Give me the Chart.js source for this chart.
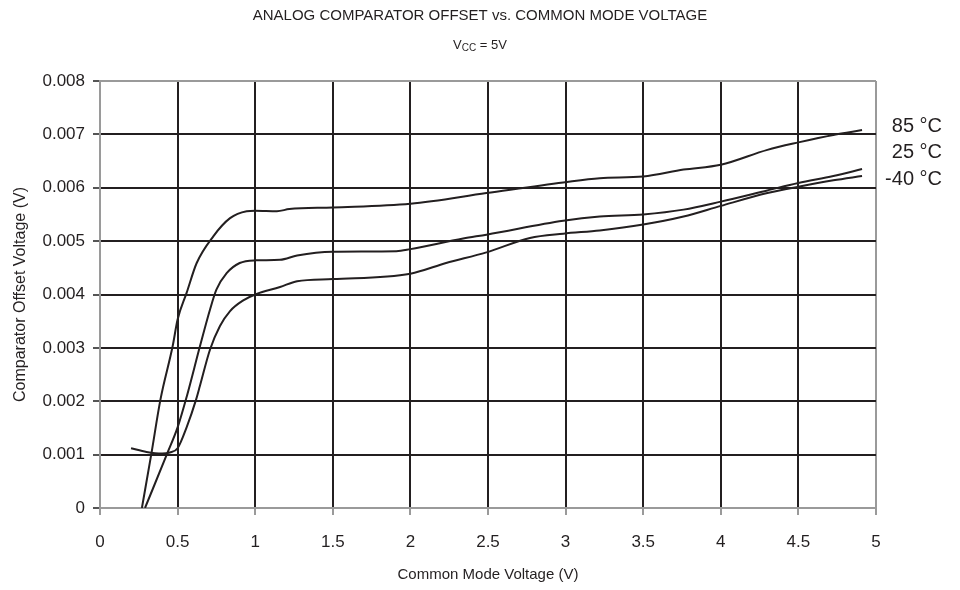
<!DOCTYPE html>
<html>
<head>
<meta charset="utf-8">
<script src="https://cdn.jsdelivr.net/npm/chart.js@4"></script>
<style>
  html, body { margin: 0; padding: 0; background: #fff; }
  #wrap { width: 960px; height: 590px; }
</style>
</head>
<body>
<div id="wrap"><canvas id="graph"></canvas></div>
<script>
// tick labels
const xTickLabels = ['0', '0.5', '1', '1.5', '2', '2.5', '3', '3.5', '4', '4.5', '5'];
const yTickLabels = ['0', '0.001', '0.002', '0.003', '0.004', '0.005', '0.006', '0.007', '0.008'];

// series
const seriesNames = ['85 °C', '25 °C', '-40 °C'];

const x85 = [0.27, 0.33, 0.39, 0.468, 0.5, 0.558, 0.623, 0.73, 0.838, 0.945, 1.0, 1.14, 1.22, 1.5, 2.0, 2.49, 2.985, 3.22, 3.5, 3.76, 4.0, 4.3, 4.5, 4.725, 4.91];
const y85 = [0, 0.001, 0.00204, 0.00303, 0.00353, 0.00403, 0.00459, 0.00509, 0.00543, 0.00556, 0.00557, 0.00556, 0.0056, 0.00563, 0.0057, 0.0059, 0.0061, 0.00618, 0.00621, 0.00634, 0.00643, 0.00671, 0.00685, 0.00699, 0.00708];

const x25 = [0.29, 0.43, 0.5, 0.56, 0.644, 0.709, 0.75, 0.816, 0.9, 1.0, 1.16, 1.27, 1.5, 1.91, 2.0, 2.34, 2.49, 2.985, 3.22, 3.5, 3.76, 4.0, 4.3, 4.5, 4.725, 4.91];
const y25 = [0, 0.001, 0.00151, 0.0021, 0.00303, 0.00372, 0.00409, 0.0044, 0.00459, 0.00464, 0.00465, 0.00473, 0.0048, 0.00481, 0.00485, 0.00505, 0.00512, 0.00538, 0.00546, 0.0055, 0.00559, 0.00574, 0.00595, 0.00609, 0.00622, 0.00635];

const xm40 = [0.2, 0.3, 0.4, 0.45, 0.5, 0.558, 0.62, 0.644, 0.709, 0.773, 0.838, 0.923, 1.0, 1.16, 1.27, 1.5, 2.0, 2.23, 2.49, 2.77, 2.985, 3.22, 3.5, 3.76, 4.0, 4.3, 4.5, 4.725, 4.91];
const ym40 = [0.00112, 0.00105, 0.00102, 0.00104, 0.00112, 0.00151, 0.00204, 0.00229, 0.00297, 0.00341, 0.00369, 0.00389, 0.004, 0.00414, 0.00425, 0.00429, 0.00439, 0.00459, 0.00479, 0.00506, 0.00514, 0.0052, 0.00531, 0.00546, 0.00566, 0.0059, 0.00602, 0.00614, 0.00622];

const FONT = '"Liberation Sans", Arial, sans-serif';
const INK = '#231f20';
const FRAME = '#9a9a9a';

function pts(xs, ys) {
    return xs.map((x, i) => ({ x: x, y: ys[i] }));
}

function lineSet(name, xs, ys) {
    return {
        label: name,
        data: pts(xs, ys),
        borderColor: INK,
        borderWidth: 2,
        pointRadius: 0,
        fill: false,
        cubicInterpolationMode: 'monotone',
    };
}

// titles and the temperature labels on the right
const textPlugin = {
    id: 'texts',
    afterDraw(chart) {
        const c = chart.ctx;
        c.save();
        c.fillStyle = INK;
        c.textBaseline = 'middle';

        c.textAlign = 'center';
        c.font = '15px ' + FONT;
        c.fillText('ANALOG COMPARATOR OFFSET vs. COMMON MODE VOLTAGE', 480, 16);

        // V_CC = 5V with subscript
        c.textAlign = 'left';
        const big = '13px ' + FONT, small = '10px ' + FONT;
        c.font = big; const w1 = c.measureText('V').width;
        c.font = small; const w2 = c.measureText('CC').width;
        c.font = big; const w3 = c.measureText(' = 5V').width;
        let sx = 480 - (w1 + w2 + w3) / 2;
        const sy = 45;
        c.font = big; c.fillText('V', sx, sy);
        c.font = small; c.fillText('CC', sx + w1, sy + 3);
        c.font = big; c.fillText(' = 5V', sx + w1 + w2, sy);

        c.textAlign = 'right';
        c.font = '20px ' + FONT;
        const ys = [126, 152, 179];
        seriesNames.forEach((n, i) => c.fillText(n, 942, ys[i]));
        c.restore();
    }
};

const graph = document.getElementById('graph').getContext('2d');

let myChart = new Chart(graph, {
    type: 'line',
    data: {
        datasets: [
            lineSet(seriesNames[0], x85, y85),
            lineSet(seriesNames[1], x25, y25),
            lineSet(seriesNames[2], xm40, ym40),
        ],
    },
    options: {
        responsive: true,
        maintainAspectRatio: false,
        animation: false,
        layout: {
            padding: { top: 81, right: 84, bottom: 0, left: 0 },
        },
        plugins: {
            legend: { display: false },
            tooltip: { enabled: false },
            title: { display: false },
        },
        scales: {
            x: {
                type: 'linear',
                min: 0,
                max: 5,
                afterFit: (s) => { s.height = 82; },
                ticks: {
                    stepSize: 0.5,
                    color: INK,
                    font: { family: FONT, size: 17 },
                    padding: 17,
                    maxRotation: 0,
                    callback: (v) => xTickLabels[Math.round(v * 2)],
                },
                grid: {
                    color: (ctx) => (ctx.tick && (ctx.tick.value === 0 || ctx.tick.value === 5)) ? FRAME : INK,
                    lineWidth: 2,
                    tickLength: 7,
                    tickColor: FRAME,
                },
                border: { color: FRAME, width: 2 },
                title: {
                    display: true,
                    text: 'Common Mode Voltage (V)',
                    color: INK,
                    font: { family: FONT, size: 15 },
                    padding: { top: 0, bottom: 6 },
                },
            },
            y: {
                min: 0,
                max: 0.008,
                afterFit: (s) => { s.width = 100; },
                ticks: {
                    stepSize: 0.001,
                    color: INK,
                    font: { family: FONT, size: 17 },
                    padding: 8,
                    callback: (v) => yTickLabels[Math.round(v * 1000)],
                },
                grid: {
                    color: (ctx) => (ctx.tick && (ctx.tick.value === 0 || Math.abs(ctx.tick.value - 0.008) < 1e-9)) ? FRAME : INK,
                    lineWidth: 2,
                    tickLength: 7,
                    tickColor: '#555',
                },
                border: { color: FRAME, width: 2 },
                title: {
                    display: true,
                    text: 'Comparator Offset Voltage (V)',
                    color: INK,
                    font: { family: FONT, size: 16 },
                    padding: { top: 11, bottom: 0 },
                },
            },
        },
    },
    plugins: [textPlugin],
});
</script>
</body>
</html>
